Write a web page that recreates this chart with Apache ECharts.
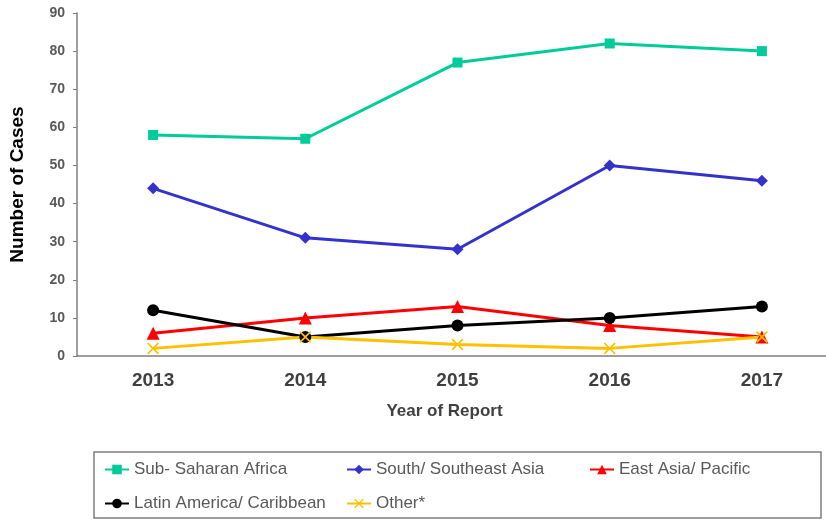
<!DOCTYPE html>
<html>
<head>
<meta charset="utf-8">
<script src="https://cdn.jsdelivr.net/npm/echarts@6/dist/echarts.min.js"></script>
<style>
  html, body { margin: 0; padding: 0; background: #fff; overflow: hidden; }
  #chart { width: 838px; height: 521px; }
</style>
</head>
<body>
<div id="chart"></div>
<script>
const years = ['2013', '2014', '2015', '2016', '2017']
const subSaharan = [58, 57, 77, 82, 80]
const southAsia = [44, 31, 28, 50, 46]
const eastAsia = [6, 10, 13, 8, 5]
const latinAmerica = [12, 5, 8, 10, 13]
const other = [2, 5, 3, 2, 5]

const crossPath = 'path://M0,1L1,0L5,4L9,0L10,1L6,5L10,9L9,10L5,6L1,10L0,9L4,5Z'
const font = 'Liberation Sans, Arial, sans-serif'

const chart = echarts.init(document.getElementById('chart'))

const makeSeries = (name, data, color, symbol, size) => ({
  name,
  type: 'line',
  data,
  symbol,
  symbolSize: size,
  lineStyle: { color, width: 3 },
  itemStyle: { color },
  z: 2
})

// one legend per item so the columns line up like the original box
const makeLegend = (name, left, top) => ({
  left,
  top,
  padding: 0,
  itemWidth: 24,
  itemHeight: 12,
  itemGap: 5,
  textStyle: { fontFamily: font, fontSize: 17, color: '#595959' },
  data: [name]
})

chart.setOption({
  animation: false,
  textStyle: { fontFamily: font },
  grid: { left: 75, right: 0, top: 13, bottom: 165 },
  xAxis: {
    type: 'category',
    data: years,
    boundaryGap: true,
    axisTick: { show: false },
    axisLine: { lineStyle: { color: '#7f7f7f', width: 1.5 } },
    axisLabel: { color: '#404040', fontSize: 19, fontWeight: 'bold', margin: 15, fontFamily: font },
    name: 'Year of Report',
    nameLocation: 'middle',
    nameGap: 47,
    nameTextStyle: { color: '#404040', fontSize: 17, fontWeight: 'bold', fontFamily: font, padding: [0, 26, 0, 0] }
  },
  yAxis: {
    type: 'value',
    min: 0,
    max: 90,
    interval: 10,
    splitLine: { show: false },
    axisLine: { show: true, lineStyle: { color: '#7f7f7f', width: 1.5 } },
    axisTick: { show: true, length: 4, lineStyle: { color: '#7f7f7f' } },
    axisLabel: { color: '#595959', fontSize: 14, fontWeight: 'bold', margin: 12, fontFamily: font },
    name: 'Number of Cases',
    nameLocation: 'middle',
    nameGap: 50,
    nameTextStyle: { color: '#000', fontSize: 19, fontWeight: 'bold', fontFamily: font }
  },
  legend: [
    makeLegend('Sub- Saharan Africa', 104, 461),
    makeLegend('South/ Southeast Asia', 346, 461),
    makeLegend('East Asia/ Pacific', 589, 461),
    makeLegend('Latin America/ Caribbean', 104, 495),
    makeLegend('Other*', 346, 495)
  ],
  graphic: [
    {
      type: 'rect',
      shape: { x: 94, y: 452, width: 727, height: 66 },
      style: { fill: 'none', stroke: '#7f7f7f', lineWidth: 1.5 },
      silent: true
    }
  ],
  series: [
    makeSeries('Sub- Saharan Africa', subSaharan, '#00CC99', 'rect', 10),
    makeSeries('South/ Southeast Asia', southAsia, '#3333CC', 'diamond', 12),
    makeSeries('East Asia/ Pacific', eastAsia, '#FF0000', 'triangle', 13),
    makeSeries('Latin America/ Caribbean', latinAmerica, '#000000', 'circle', 12),
    makeSeries('Other*', other, '#FFC000', crossPath, 12)
  ]
})
</script>
</body>
</html>
